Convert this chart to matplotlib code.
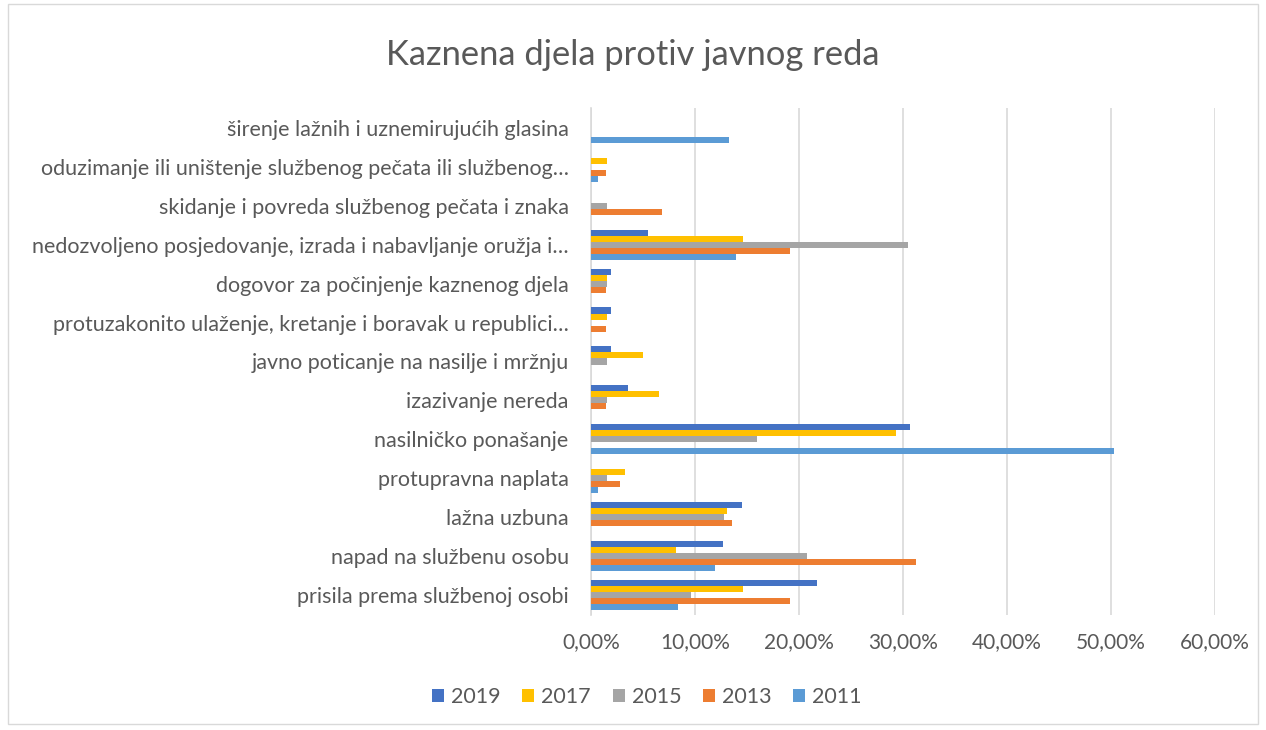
import numpy as np
import matplotlib
matplotlib.use("Agg")
import matplotlib.pyplot as plt
from matplotlib.patches import Rectangle
from matplotlib.ticker import FuncFormatter

# Kategorije (odozdo prema gore, kao na grafu)
kategorije = [
    "prisila prema službenoj osobi",
    "napad na službenu osobu",
    "lažna uzbuna",
    "protupravna naplata",
    "nasilničko ponašanje",
    "izazivanje nereda",
    "javno poticanje na nasilje i mržnju",
    "protuzakonito ulaženje, kretanje i boravak u republici…",
    "dogovor za počinjenje kaznenog djela",
    "nedozvoljeno posjedovanje, izrada i nabavljanje oružja i…",
    "skidanje i povreda službenog pečata i znaka",
    "oduzimanje ili uništenje službenog pečata ili službenog…",
    "širenje lažnih i uznemirujućih glasina",
]

# Udjeli u postocima
v2019 = [21.7, 12.7, 14.5, 0.0, 30.7, 3.6, 1.9, 1.9, 1.9, 5.45, 0.0, 0.0, 0.0]
v2017 = [14.65, 8.2, 13.1, 3.24, 29.3, 6.5, 4.97, 1.57, 1.57, 14.65, 0.0, 1.57, 0.0]
v2015 = [9.58, 20.8, 12.8, 1.57, 16.0, 1.57, 1.57, 0.0, 1.57, 30.5, 1.57, 0.0, 0.0]
v2013 = [19.1, 31.25, 13.6, 2.79, 0.0, 1.44, 0.0, 1.44, 1.44, 19.1, 6.83, 1.44, 0.0]
v2011 = [8.37, 11.9, 0.0, 0.64, 50.3, 0.0, 0.0, 0.0, 0.0, 13.9, 0.0, 0.64, 13.3]

godine = ["2019", "2017", "2015", "2013", "2011"]
serije = [v2019, v2017, v2015, v2013, v2011]
boje = ["#4472C4", "#FFC000", "#A5A5A5", "#ED7D31", "#5B9BD5"]

plt.rcParams["font.family"] = ["Lato", "DejaVu Sans"]
tekst = "#595959"

fig = plt.figure(figsize=(12.66, 7.30), dpi=100)
ax = fig.add_axes([0.4668, 0.1582, 0.4929, 0.6932])

y = np.arange(len(kategorije))
h = 0.155
for i, (god, vals, boja) in enumerate(zip(godine, serije, boje)):
    pomak = (2 - i) * h
    ax.barh(y + pomak, vals, height=h, color=boja, label=god, zorder=3)

ax.set_xlim(0, 60)
ax.set_ylim(-0.5, len(kategorije) - 0.5)
ax.set_xticks(np.arange(0, 61, 10))
ax.xaxis.set_major_formatter(FuncFormatter(lambda v, p: f"{v:.2f}%".replace(".", ",")))
ax.set_yticks(y)
ax.set_yticklabels(kategorije)
ax.tick_params(axis="y", length=0, pad=16, labelsize=15.5, labelcolor=tekst)
ax.tick_params(axis="x", length=0, pad=13, labelsize=15, labelcolor=tekst)
ax.grid(axis="x", color="#D9D9D9", linewidth=1.2, zorder=0)
for s in ["top", "right", "bottom"]:
    ax.spines[s].set_visible(False)
ax.spines["left"].set_color("#D9D9D9")
ax.spines["left"].set_linewidth(1.2)

fig.text(0.5, 0.925, "Kaznena djela protiv javnog reda", ha="center", va="center",
         fontsize=24.8, color=tekst)

fig.legend(loc="center", bbox_to_anchor=(0.511, 0.045), ncol=5, frameon=False,
           fontsize=15.5, labelcolor=tekst, handlelength=0.56, handleheight=0.56,
           columnspacing=1.0, handletextpad=0.33)

fig.patches.append(Rectangle((0.006, 0.008), 0.988, 0.987, transform=fig.transFigure,
                             fill=False, edgecolor="#D9D9D9", linewidth=1))

fig.savefig("out.png", dpi=100)
